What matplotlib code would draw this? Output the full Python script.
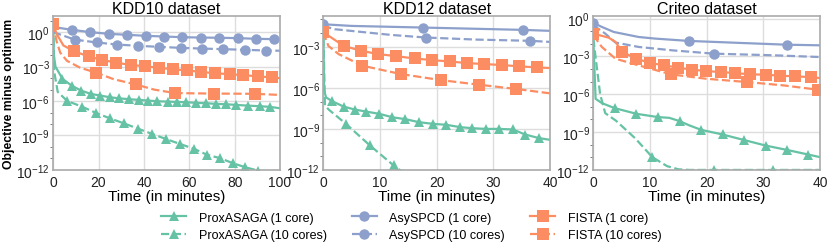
import numpy as np
import matplotlib
matplotlib.use("Agg")
import matplotlib.pyplot as plt

plt.rcParams['font.family'] = ['Liberation Sans', 'DejaVu Sans']
plt.rcParams['mathtext.default'] = 'regular'

# colours (Set2)
C_ASAGA = "#66c2a5"
C_ASY = "#8da0cb"
C_FISTA = "#fc8d62"

titles = ["KDD10 dataset", "KDD12 dataset", "Criteo dataset"]
xmax = [100, 40, 40]
ytop = [1.4, -0.75, 0.2]   # log10 of upper y limit

# ---------------- KDD10 (x in minutes, y = log10(objective - optimum)) ----------------
kdd10_asaga1_x = [0, 0.3, 1.0, 4.1, 8.1, 12.3, 16.6, 20.7, 24.9, 28.9, 33.3, 37.8, 41.8, 45.9, 50.4,
                  54.5, 58.5, 63.0, 67.4, 71.9, 76.3, 80.7, 85.9, 91.1, 95.6, 100]
kdd10_asaga1_y = [0.5, -2.0, -3.0, -4.07, -4.65, -5.09, -5.38, -5.52, -5.67, -5.76, -5.84, -5.90, -5.96,
                  -6.02, -6.05, -6.08, -6.10, -6.16, -6.19, -6.25, -6.28, -6.34, -6.40, -6.45, -6.51, -6.63]
kdd10_asaga1_m = list(range(3, 25))
kdd10_asaga10_x = [0, 0.5, 2.0, 6.2, 12.6, 18.8, 24.9, 31.1, 37.3, 43.4, 49.6, 55.9, 62.2, 67.7, 73.6,
                   79.3, 84.7, 90.4, 96]
kdd10_asaga10_y = [0.5, -3.5, -5.2, -6.0, -6.48, -7.03, -7.5, -7.94, -8.4, -8.85, -9.3, -9.74, -10.17,
                   -10.67, -10.98, -11.42, -11.77, -12.06, -12.3]
kdd10_asaga10_m = list(range(3, 18))
kdd10_asy1_x = [0, 8.3, 16.4, 24.5, 32.6, 40.7, 48.8, 57.0, 65.0, 73.1, 81.3, 89.4, 97.5, 100]
kdd10_asy1_y = [0.45, 0.2, 0.0, -0.15, -0.23, -0.32, -0.38, -0.44, -0.47, -0.49, -0.52, -0.58, -0.61, -0.64]
kdd10_asy1_m = list(range(1, 13))
kdd10_asy10_x = [0, 9.5, 19.2, 28.1, 37.3, 46.7, 56.3, 65.5, 74.8, 84.4, 93.8, 100]
kdd10_asy10_y = [0.0, -0.65, -0.9, -1.08, -1.19, -1.28, -1.37, -1.43, -1.48, -1.54, -1.6, -1.62]
kdd10_asy10_m = list(range(1, 11))
kdd10_fista1_x = [0, 1.5, 4.5, 9.2, 15.6, 21.5, 27.9, 34.1, 40.4, 46.7, 52.9, 59.0, 65.2, 71.4, 77.8,
                  83.7, 90.1, 96.3, 100]
kdd10_fista1_y = [0.73, -0.15, -1.16, -1.66, -2.12, -2.41, -2.67, -2.85, -2.97, -3.11, -3.23, -3.34,
                  -3.46, -3.58, -3.66, -3.75, -3.84, -3.95, -4.01]
kdd10_fista1_m = [0] + list(range(3, 18))
kdd10_fista10_x = [0, 1.5, 3.1, 6.1, 11.9, 18.9, 26.7, 36.3, 44.4, 53.5, 62, 70.9, 80, 88.9, 100]
kdd10_fista10_y = [0.73, -0.8, -1.78, -2.5, -3.1, -3.53, -4.1, -4.55, -5.0, -5.3, -5.33, -5.35, -5.36,
                   -5.37, -5.47]
kdd10_fista10_m = [5, 7, 9, 11, 13]

# ---------------- KDD12 ----------------
kdd12_asaga1_x = [0, 0.15, 0.5, 1.6, 3.6, 5.6, 7.5, 9.9, 12.2, 14.5, 16.9, 19.3, 21.7, 24.1, 26.3,
                  28.7, 31.0, 33.4, 35.6, 38.0, 40]
kdd12_asaga1_y = [-1.5, -6.2, -6.7, -6.98, -7.37, -7.59, -7.73, -7.9, -8.15, -8.29, -8.51, -8.63, -8.7,
                  -8.87, -8.95, -9.0, -9.0, -9.04, -9.41, -9.67, -9.8]
kdd12_asaga1_m = list(range(3, 20))
kdd12_asaga10_x = [0, 0.3, 1.0, 4.0, 8.2, 12.4, 14.5]
kdd12_asaga10_y = [-1.5, -7.3, -7.6, -8.63, -10.2, -11.67, -12.3]
kdd12_asaga10_m = [3, 4, 5]
kdd12_asy1_x = [0, 5, 17.6, 35.2, 40]
kdd12_asy1_y = [-1.35, -1.47, -1.59, -1.76, -1.83]
kdd12_asy1_m = [0, 2, 3]
kdd12_asy10_x = [0, 2, 6, 12, 18.1, 27, 36.5, 40]
kdd12_asy10_y = [-1.47, -1.71, -1.88, -2.13, -2.32, -2.47, -2.56, -2.64]
kdd12_asy10_m = [4, 6]
kdd12_fista1_x = [0, 3.6, 6.7, 9.7, 12.8, 16.1, 19.2, 22.3, 25.4, 28.4, 31.5, 34.6, 37.6, 40]
kdd12_fista1_y = [-1.93, -2.93, -3.29, -3.53, -3.68, -3.85, -3.97, -4.07, -4.19, -4.26, -4.33, -4.43,
                  -4.5, -4.55]
kdd12_fista1_m = list(range(0, 13))
kdd12_fista10_x = [0, 0.9, 2.7, 6.9, 13.7, 20.7, 27.5, 34.0, 40]
kdd12_fista10_y = [-1.93, -2.93, -3.53, -4.38, -4.99, -5.43, -5.77, -6.08, -6.4]
kdd12_fista10_m = [3, 4, 5, 6, 7]

# ---------------- Criteo ----------------
criteo_asaga1_x = [0, 0.4, 1.5, 3.75, 7.6, 11.4, 13.4, 15.2, 17.0, 19.0, 22.8, 26.5, 30.4, 34.1, 37.9, 40]
criteo_asaga1_y = [-1.6, -6.36, -6.7, -7.1, -7.55, -7.81, -7.87, -8.13, -8.48, -8.82, -9.19, -9.62,
                   -10.07, -10.41, -10.78, -10.99]
criteo_asaga1_m = [3, 4, 5, 7, 9, 10, 11, 12, 13, 14]
criteo_asaga10_x = [0, 1.2, 2.1, 4.0, 7.4, 10.4, 13.0, 15.0, 17.0, 21.3, 31.6, 40]
criteo_asaga10_y = [-1.6, -6.0, -7.5, -8.1, -9.5, -10.99, -11.7, -11.95, -12.0, -12.0, -12.0, -12.0]
criteo_asaga10_m = [5, 9, 10]
criteo_asy1_x = [0, 1.5, 3.6, 8.0, 11.0, 16.8, 25.9, 34.1, 40]
criteo_asy1_y = [-0.34, -0.66, -1.06, -1.46, -1.59, -1.77, -1.93, -2.07, -2.12]
criteo_asy1_m = [0, 5, 7]
criteo_asy10_x = [0, 2.1, 3.9, 8.0, 14.0, 21.2, 31.8, 40]
criteo_asy10_y = [-0.53, -1.19, -1.9, -2.25, -2.52, -2.78, -2.91, -3.05]
criteo_asy10_m = [5]
criteo_fista1_x = [0, 2.7, 3.9, 5.1, 7.6, 10.0, 12.5, 14.9, 17.4, 19.9, 22.5, 25.0, 27.7, 30.4, 32.9,
                   35.6, 38.3, 40]
criteo_fista1_y = [-1.19, -1.51, -1.85, -2.65, -3.18, -3.52, -3.71, -3.89, -4.05, -4.16, -4.24, -4.32,
                   -4.42, -4.45, -4.53, -4.58, -4.64, -4.72]
criteo_fista1_m = [0] + list(range(3, 17))
criteo_fista10_x = [0, 1.5, 3.9, 8.0, 13.7, 19.9, 27.1, 33.6, 39.6, 40]
criteo_fista10_y = [-1.32, -2.25, -3.18, -3.71, -4.42, -4.77, -5.03, -5.3, -5.64, -5.7]
criteo_fista10_m = [4, 6, 8]

panels = [
    [(kdd10_asaga1_x, kdd10_asaga1_y, kdd10_asaga1_m), (kdd10_asaga10_x, kdd10_asaga10_y, kdd10_asaga10_m),
     (kdd10_asy1_x, kdd10_asy1_y, kdd10_asy1_m), (kdd10_asy10_x, kdd10_asy10_y, kdd10_asy10_m),
     (kdd10_fista1_x, kdd10_fista1_y, kdd10_fista1_m), (kdd10_fista10_x, kdd10_fista10_y, kdd10_fista10_m)],
    [(kdd12_asaga1_x, kdd12_asaga1_y, kdd12_asaga1_m), (kdd12_asaga10_x, kdd12_asaga10_y, kdd12_asaga10_m),
     (kdd12_asy1_x, kdd12_asy1_y, kdd12_asy1_m), (kdd12_asy10_x, kdd12_asy10_y, kdd12_asy10_m),
     (kdd12_fista1_x, kdd12_fista1_y, kdd12_fista1_m), (kdd12_fista10_x, kdd12_fista10_y, kdd12_fista10_m)],
    [(criteo_asaga1_x, criteo_asaga1_y, criteo_asaga1_m), (criteo_asaga10_x, criteo_asaga10_y, criteo_asaga10_m),
     (criteo_asy1_x, criteo_asy1_y, criteo_asy1_m), (criteo_asy10_x, criteo_asy10_y, criteo_asy10_m),
     (criteo_fista1_x, criteo_fista1_y, criteo_fista1_m), (criteo_fista10_x, criteo_fista10_y, criteo_fista10_m)],
]

labels = ["ProxASAGA (1 core)", "ProxASAGA (10 cores)", "AsySPCD (1 core)", "AsySPCD (10 cores)",
          "FISTA (1 core)", "FISTA (10 cores)"]
colors = [C_ASAGA, C_ASAGA, C_ASY, C_ASY, C_FISTA, C_FISTA]
styles = ["-", "--", "-", "--", "-", "--"]
markers = ["^", "^", "o", "o", "s", "s"]
msizes = [7.5, 7.5, 7.5, 7.5, 8, 8]

fig = plt.figure(figsize=(8.31, 2.51), dpi=100)
lefts = [0.064, 0.389, 0.714]
handles = []
for i in range(3):
    ax = fig.add_axes([lefts[i], 0.319, 0.273, 0.613])
    for j, (xs, ys, mk) in enumerate(panels[i]):
        l, = ax.plot(xs, 10 ** np.array(ys), linestyle=styles[j], color=colors[j], lw=1.6,
                     marker=markers[j], markevery=mk, ms=msizes[j], mew=0, label=labels[j])
        if i == 0:
            handles.append(l)
    ax.set_yscale("log")
    ax.set_yticks([10.0 ** k for k in range(-12, 1, 3)])
    ax.yaxis.set_minor_locator(matplotlib.ticker.LogLocator(base=10, subs=(1.0,), numticks=30))
    ax.yaxis.set_minor_formatter(matplotlib.ticker.NullFormatter())
    ax.set_xticks(np.linspace(0, xmax[i], 6 if xmax[i] == 100 else 5))
    ax.set_xlim(0, xmax[i])
    ax.set_ylim(1e-12, 10 ** ytop[i])
    ax.grid(True, which="major", color="#dddddd", lw=1)
    ax.set_axisbelow(True)
    for s in ax.spines.values():
        s.set_color("#aaaaaa")
        s.set_linewidth(1.2)
    ax.tick_params(which="major", length=0, labelsize=10, pad=4, colors="#222222")
    ax.tick_params(which="major", axis="y", pad=2.5)
    ax.tick_params(which="minor", axis="y", length=2.5, width=0.6, color="#666666")
    ax.set_title(titles[i], fontsize=11.5, pad=2)
    ax.set_xlabel("Time (in minutes)", fontsize=11, labelpad=0)
    if i == 0:
        ax.set_ylabel("Objective minus optimum", fontsize=8.8, fontweight="bold", labelpad=1)

fig.legend(handles=handles, loc="lower center", bbox_to_anchor=(0.495, -0.01), ncol=3, frameon=False,
           fontsize=9, handlelength=2.0, columnspacing=2.0, labelspacing=0.45, handletextpad=1.0)
fig.savefig("out.png", dpi=100)
